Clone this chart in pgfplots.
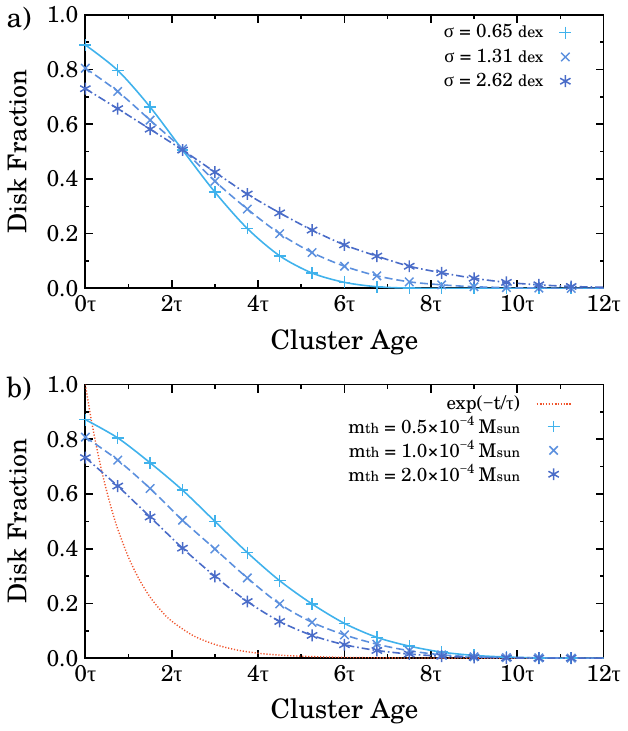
\documentclass[border=0pt]{standalone}
\usepackage{fontspec}
\setmainfont{TeX Gyre Schola}
\newfontfamily\gr{Liberation Serif}
\usepackage{pgfplots}
\pgfplotsset{compat=1.18}
\definecolor{cp}{RGB}{64,178,236}
\definecolor{cx}{RGB}{92,144,222}
\definecolor{cs}{RGB}{74,108,200}
\definecolor{cr}{RGB}{240,84,44}
\newcommand{\tu}{{\gr τ}}
\newcommand{\lgap}{\hspace*{6pt}}

% marker ages 0, 0.75, ..., 11.25 (in units of tau); last row only ends the curves
\pgfplotstableread{
x     p      c      s
0     0.890  0.805  0.730
0.75  0.797  0.720  0.657
1.5   0.663  0.615  0.582
2.25  0.506  0.510  0.506
3     0.352  0.392  0.425
3.75  0.219  0.290  0.345
4.5   0.119  0.200  0.276
5.25  0.056  0.131  0.213
6     0.022  0.081  0.159
6.75  0.006  0.046  0.118
7.5   0.001  0.024  0.081
8.25  0.000  0.013  0.057
9     0.000  0.006  0.037
9.75  0.000  0.003  0.022
10.5  0.000  0.001  0.013
11.25 0.000  0.000  0.007
12    0.000  0.000  0.004
}\sigtab
\pgfplotstableread{
x     p      c      s
0     0.872  0.808  0.733
0.75  0.805  0.724  0.629
1.5   0.714  0.620  0.516
2.25  0.614  0.504  0.402
3     0.500  0.399  0.299
3.75  0.386  0.293  0.207
4.5   0.283  0.198  0.134
5.25  0.198  0.131  0.083
6     0.127  0.085  0.049
6.75  0.076  0.051  0.028
7.5   0.044  0.027  0.015
8.25  0.022  0.012  0.007
9     0.010  0.005  0.003
9.75  0.004  0.002  0.001
10.5  0.001  0.001  0.000
11.25 0.000  0.000  0.000
12    0.000  0.000  0.000
}\mtab

\pgfplotsset{
  dfaxis/.style={
    scale only axis, width=260.5pt, height=137.5pt, clip mode=individual,
    xmin=0, xmax=12, ymin=0, ymax=1,
    xtick={0,2,4,6,8,10,12}, minor xtick={1,3,5,7,9,11},
    xticklabels={0\tu,2\tu,4\tu,6\tu,8\tu,10\tu,12\tu},
    ytick={0,0.2,0.4,0.6,0.8,1}, minor ytick={0.1,0.3,0.5,0.7,0.9},
    yticklabel style={/pgf/number format/.cd, fixed, fixed zerofill, precision=1, assume math mode=true},
    tick align=inside, major tick length=4pt, minor tick length=2pt,
    axis line style={line width=0.9pt}, every tick/.style={black, line width=0.8pt},
    tick label style={font=\fontsize{11.5}{13}\selectfont},
    xlabel={Cluster Age}, ylabel={Disk Fraction},
    every axis x label/.style={at={(axis description cs:0.5,-0.196)}, anchor=center,
      font=\fontsize{13.5}{16}\selectfont},
    every axis y label/.style={at={(axis description cs:-0.132,0.5)}, rotate=90, anchor=center,
      font=\fontsize{13}{16}\selectfont},
    legend style={anchor=north east, draw=none, fill=none,
      font=\fontsize{9.5}{10}\selectfont},
    legend cell align=right, legend plot pos=right,
  },
  lp/.style={cp, line width=0.8pt, smooth},
  lc/.style={cx, line width=0.8pt, smooth, dash pattern=on 4pt off 2pt},
  ls/.style={cs, line width=0.8pt, smooth, dash pattern=on 4pt off 1.5pt on 0.8pt off 1.5pt},
  mp/.style={cp, only marks, mark=+, mark size=3pt, line width=0.75pt},
  mc/.style={cx, only marks, mark=x, mark size=3pt, line width=0.75pt},
  ms/.style={cs, only marks, mark=asterisk, mark size=3pt, line width=0.75pt},
}

\begin{document}
\begin{tikzpicture}
\begin{axis}[dfaxis, at={(0,185.85pt)},
  legend style={at={(axis description cs:0.95,0.995)}, row sep=0pt}]
\addplot[lp, forget plot] table[x=x, y=p] {\sigtab};
\addplot[lc, forget plot] table[x=x, y=c] {\sigtab};
\addplot[ls, forget plot] table[x=x, y=s] {\sigtab};
\addplot[mp] table[x=x, y=p, skip coords between index={16}{17}] {\sigtab};
\addlegendentry{{\gr σ} = 0.65 {\footnotesize dex}\lgap}
\addplot[mc] table[x=x, y=c, skip coords between index={16}{17}] {\sigtab};
\addlegendentry{{\gr σ} = 1.31 {\footnotesize dex}\lgap}
\addplot[ms] table[x=x, y=s, skip coords between index={16}{17}] {\sigtab};
\addlegendentry{{\gr σ} = 2.62 {\footnotesize dex}\lgap}
\node[font=\fontsize{14}{16}\selectfont] at (axis description cs:-0.128,0.985) {a)};
\end{axis}

\begin{axis}[dfaxis, at={(0,0)},
  legend style={at={(axis description cs:0.95,0.99)}, row sep=-2pt}]
\addplot[cr, line width=0.7pt, dash pattern=on 0.6pt off 0.9pt, smooth] coordinates {
  (0,1.000) (0.125,0.882) (0.25,0.779) (0.375,0.687) (0.5,0.607) (0.625,0.535)
  (0.75,0.472) (1,0.368) (1.25,0.287) (1.5,0.223) (1.75,0.174) (2,0.135)
  (2.5,0.082) (3,0.050) (3.5,0.030) (4,0.018) (4.5,0.011) (5,0.007)
  (6,0.0025) (7,0.0009) (8,0.0003) (10,0.0) (12,0.0)
};
\addlegendentry{exp({\gr −}t/\tu)\lgap}
\addplot[lp, forget plot] table[x=x, y=p] {\mtab};
\addplot[lc, forget plot] table[x=x, y=c] {\mtab};
\addplot[ls, forget plot] table[x=x, y=s] {\mtab};
\addplot[mp] table[x=x, y=p, skip coords between index={16}{17}] {\mtab};
\addlegendentry{m{\scriptsize th} = 0.5×10\textsuperscript{{\gr −}4}\,M{\scriptsize sun}\lgap}
\addplot[mc] table[x=x, y=c, skip coords between index={16}{17}] {\mtab};
\addlegendentry{m{\scriptsize th} = 1.0×10\textsuperscript{{\gr −}4}\,M{\scriptsize sun}\lgap}
\addplot[ms] table[x=x, y=s, skip coords between index={16}{17}] {\mtab};
\addlegendentry{m{\scriptsize th} = 2.0×10\textsuperscript{{\gr −}4}\,M{\scriptsize sun}\lgap}
\node[font=\fontsize{14}{16}\selectfont] at (axis description cs:-0.128,0.985) {b)};
\end{axis}
\end{tikzpicture}
\end{document}
